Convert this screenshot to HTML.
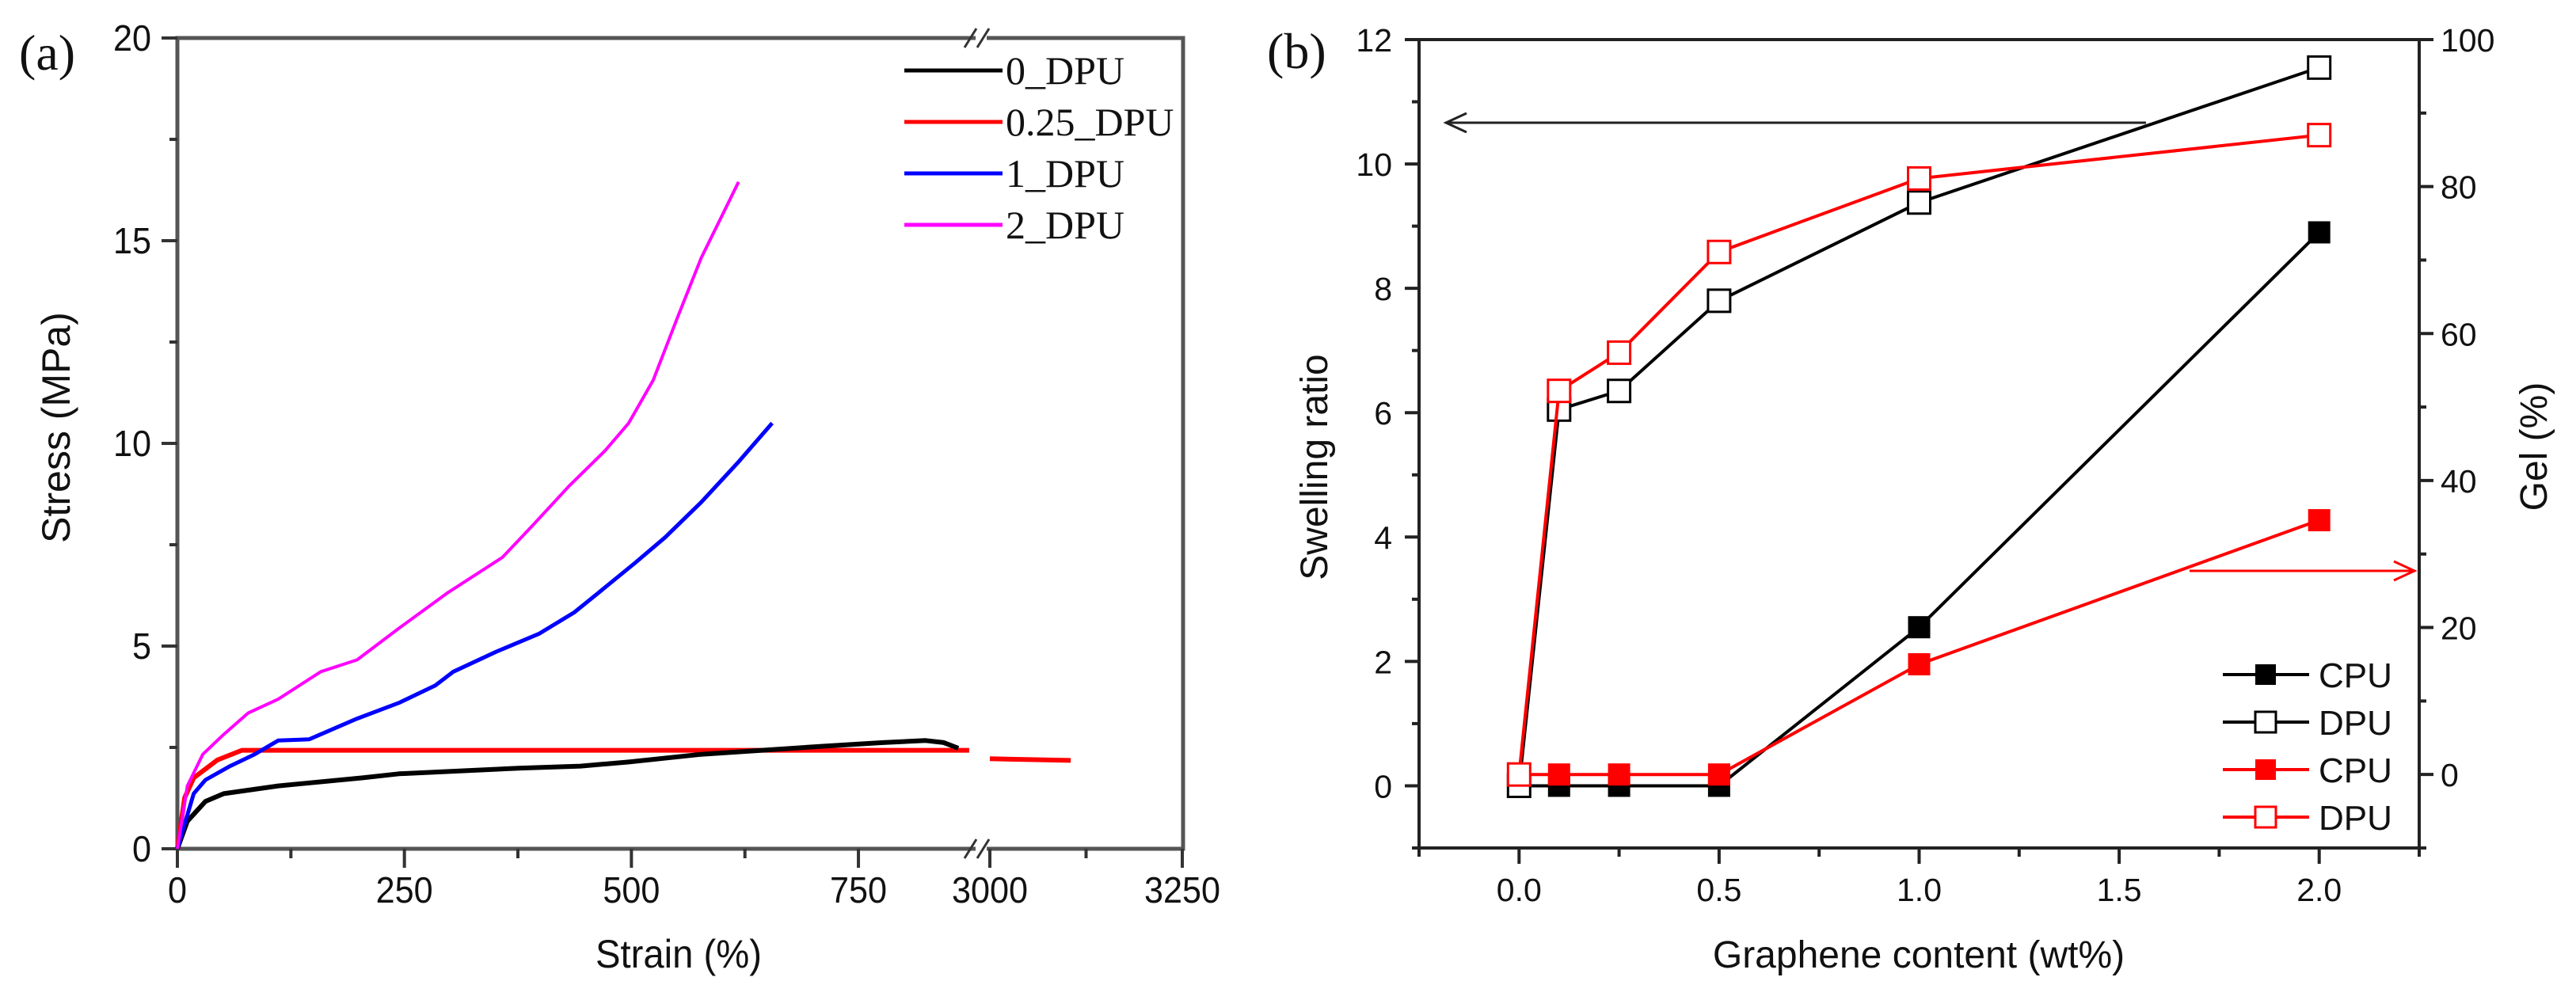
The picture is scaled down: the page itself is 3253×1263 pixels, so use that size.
<!DOCTYPE html>
<html><head><meta charset="utf-8"><title>Stress-strain and swelling charts</title>
<style>
html,body{margin:0;padding:0;background:#fff;}
svg{display:block;}
text{font-family:"Liberation Sans",Arial,sans-serif;fill:#111;}
.serif{font-family:"Liberation Serif","Times New Roman",serif;}
</style></head>
<body>
<svg id="fig" width="3253" height="1263" viewBox="0 0 3253 1263" xmlns="http://www.w3.org/2000/svg">
<g id="pa"></g>
<g id="pb"></g>
</svg>
<script>
// ---------- Panel (a) data ----------
const aStrainTicks = [0, 250, 500, 750, 3000, 3250];
const aStressTicks = [0, 5, 10, 15, 20];
const s0Strain = [0, 11, 31, 51, 111, 204, 244, 378, 444, 497, 577, 711, 777, 824, 844, 860];
const s0Stress = [0, 0.68, 1.17, 1.36, 1.55, 1.75, 1.85, 1.99, 2.04, 2.14, 2.33, 2.53, 2.62, 2.67, 2.62, 2.48];
const s025Strain = [0, 8, 18, 44, 71, 872];
const s025Stress = [0, 1.26, 1.75, 2.19, 2.43, 2.43];
const s025bStrain = [3000, 3105];
const s025bStress = [2.22, 2.18];
const s1Strain = [0, 18, 31, 58, 85, 111, 145, 198, 244, 284, 304, 351, 398, 437, 464, 504, 537, 577, 617, 655];
const s1Stress = [0, 1.36, 1.7, 2.04, 2.33, 2.67, 2.7, 3.21, 3.6, 4.03, 4.37, 4.86, 5.3, 5.83, 6.32, 7.05, 7.68, 8.55, 9.52, 10.5];
const s2Strain = [0, 11, 28, 51, 78, 111, 158, 198, 244, 298, 358, 391, 431, 471, 497, 524, 551, 577, 618];
const s2Stress = [0, 1.55, 2.33, 2.82, 3.35, 3.69, 4.37, 4.66, 5.44, 6.32, 7.19, 7.97, 8.94, 9.82, 10.5, 11.56, 13.12, 14.58, 16.45];
const aLegend = ["0_DPU", "0.25_DPU", "1_DPU", "2_DPU"];
// ---------- Panel (b) data ----------
const bContent = [0, 0.1, 0.25, 0.5, 1, 2];
const bCpuContent = [0, 0.1, 0.25, 0.5, 1, 2];
const swellCPU = [0, 0, 0, 0, 2.55, 8.9];
const swellDPU = [0, 6.05, 6.35, 7.8, 9.38, 11.55];
const gelCPU = [0, 0, 0, 0, 15, 34.6];
const gelDPU = [0, 52.2, 57.4, 71.1, 81.1, 87.0];
const bXTicks = [0, 0.5, 1, 1.5, 2];
const bLeftTicks = [0, 2, 4, 6, 8, 10, 12];
const bRightTicks = [0, 20, 40, 60, 80, 100];

const NS = "http://www.w3.org/2000/svg";
function mk(parent, tag, attrs, txt) {
  const e = document.createElementNS(NS, tag);
  for (const k in attrs) e.setAttribute(k, attrs[k]);
  if (txt !== undefined) e.textContent = txt;
  parent.appendChild(e);
  return e;
}

// ---------- Panel (a) ----------
const pa = document.getElementById('pa');
const AL = 224, AR = 1494, AT = 48, AB = 1072;
function ax(v) {
  if (v <= 884) return AL + v * 1.1467;
  return 1250 + (v - 3000) * 0.972;
}
function ay(v) { return AB - (v / 20) * (AB - AT); }

// frame
let e;
e = mk(pa, 'path', {d: `M${AL},${AB} L${AL},${AT} L1232,${AT}`, stroke:'#555', 'stroke-width':5, fill:'none'});


e = mk(pa, 'path', {d: `M1246,${AT} L${AR},${AT} L${AR},${AB} L1246,${AB}`, stroke:'#555', 'stroke-width':5, fill:'none'});


e = mk(pa, 'path', {d: `M${AL},${AB} L1232,${AB}`, stroke:'#555', 'stroke-width':5});


// break marks
[[1218,1233],[1234,1249]].forEach(([x1,x2],i)=>{
  e = mk(pa,'line',{x1:x1,y1:AB+12,x2:x2,y2:AB-12,stroke:'#333','stroke-width':3});
  
  
  e = mk(pa,'line',{x1:x1,y1:AT+12,x2:x2,y2:AT-12,stroke:'#333','stroke-width':3});
  
  
});
// x ticks
aStrainTicks.forEach(t=>{
  const x = ax(t);
  e = mk(pa,'line',{x1:x,y1:AB,x2:x,y2:AB+24,stroke:'#333','stroke-width':4});
  
  
  e = mk(pa,'text',{x:x,y:AB+68,'text-anchor':'middle','font-size':46,textLength:String(t).length*24,lengthAdjust:'spacingAndGlyphs'},String(t));
  
  
});
[125,375,625,3125].forEach(t=>{
  const x = ax(t);
  e = mk(pa,'line',{x1:x,y1:AB,x2:x,y2:AB+12,stroke:'#333','stroke-width':4});
  
  
});
// y ticks
aStressTicks.forEach(t=>{
  const y = ay(t);
  e = mk(pa,'line',{x1:AL-20,y1:y,x2:AL,y2:y,stroke:'#333','stroke-width':4});
  
  
  e = mk(pa,'text',{x:AL-33,y:y+16,'text-anchor':'end','font-size':46,textLength:String(t).length*24,lengthAdjust:'spacingAndGlyphs'},String(t));
  
  
});
[2.5,7.5,12.5,17.5].forEach(t=>{
  const y = ay(t);
  e = mk(pa,'line',{x1:AL-10,y1:y,x2:AL,y2:y,stroke:'#333','stroke-width':4});
  
  
});
// titles
e = mk(pa,'text',{x:857,y:1222,'text-anchor':'middle','font-size':50,textLength:210,lengthAdjust:'spacingAndGlyphs'},'Strain (%)');


e = mk(pa,'text',{x:0,y:0,'text-anchor':'middle','font-size':50,transform:'translate(88,540) rotate(-90)'},'Stress (MPa)');


e = mk(pa,'text',{x:24,y:88,'font-size':64,'class':'serif'},'(a)');


// series
function poly(parent, xs, ys, fx, fy, color, w, name) {
  const pts = xs.map((v,i)=>fx(v).toFixed(1)+','+fy(ys[i]).toFixed(1)).join(' ');
  const p = mk(parent,'polyline',{points:pts,fill:'none',stroke:color,'stroke-width':w,'stroke-linejoin':'round'});
  
  
  return p;
}
poly(pa, s025Strain, s025Stress, ax, ay, '#ff0000', 6, 'line-0.25-dpu');
poly(pa, s025bStrain, s025bStress, ax, ay, '#ff0000', 6, 'line-0.25-dpu-after-break');
poly(pa, s0Strain, s0Stress, ax, ay, '#000', 6, 'line-0-dpu');
poly(pa, s1Strain, s1Stress, ax, ay, '#0000ff', 5, 'line-1-dpu');
poly(pa, s2Strain, s2Stress, ax, ay, '#ff00ff', 4, 'line-2-dpu');
// legend
const aCols = ['#000','#ff0000','#0000ff','#ff00ff'];
aLegend.forEach((lab,i)=>{
  const y = 89 + i*65;
  const g = mk(pa,'g',{});
  
  
  mk(g,'line',{x1:1142,y1:y,x2:1266,y2:y,stroke:aCols[i],'stroke-width':5});
  mk(g,'text',{x:1270,y:y+17,'font-size':50,'class':'serif'},lab);
});

// ---------- Panel (b) ----------
const pb = document.getElementById('pb');
const BL = 1792, BR = 3055, BT = 50, BB = 1071;
function bx(v){ return BL + (v + 0.25) / 2.5 * (BR - BL); }
function byL(v){ return BB - (v + 1) / 13 * (BB - BT); }
function byR(v){ return BB - (v + 10) / 110 * (BB - BT); }

e = mk(pb,'rect',{x:BL,y:BT,width:BR-BL,height:BB-BT,fill:'none',stroke:'#222','stroke-width':4});


// x ticks
for (let v=-0.25; v<=2.26; v+=0.25) {
  const major = Math.abs((v*2)-Math.round(v*2))<1e-6;
  const x = bx(v);
  e = mk(pb,'line',{x1:x,y1:BB,x2:x,y2:BB+(major?20:11),stroke:'#222','stroke-width':4});
  
  
}
bXTicks.forEach(t=>{
  e = mk(pb,'text',{x:bx(t),y:1138,'text-anchor':'middle','font-size':41},t.toFixed(1));
  
  
});
// left ticks
for (let v=-1; v<=12; v++) {
  const major = v%2===0;
  const y = byL(v);
  e = mk(pb,'line',{x1:BL-(major?18:9),y1:y,x2:BL,y2:y,stroke:'#222','stroke-width':4});
  
  
}
bLeftTicks.forEach(t=>{
  e = mk(pb,'text',{x:BL-34,y:byL(t)+15,'text-anchor':'end','font-size':41},String(t));
  
  
});
// right ticks
for (let v=-10; v<=100; v+=10) {
  const major = v%20===0;
  const y = byR(v);
  e = mk(pb,'line',{x1:BR,y1:y,x2:BR+(major?18:9),y2:y,stroke:'#222','stroke-width':4});
  
  
}
bRightTicks.forEach(t=>{
  e = mk(pb,'text',{x:BR+27,y:byR(t)+15,'text-anchor':'start','font-size':41},String(t));
  
  
});
// titles
e = mk(pb,'text',{x:2423,y:1222,'text-anchor':'middle','font-size':48},'Graphene content (wt%)');


e = mk(pb,'text',{x:0,y:0,'text-anchor':'middle','font-size':48,transform:'translate(1676,590) rotate(-90)'},'Swelling ratio');


e = mk(pb,'text',{x:0,y:0,'text-anchor':'middle','font-size':48,transform:'translate(3216,564) rotate(-90)'},'Gel (%)');


e = mk(pb,'text',{x:1600,y:86,'font-size':64,'class':'serif'},'(b)');


// arrows
e = mk(pb,'g',{});


mk(e,'line',{x1:2710,y1:155,x2:1826,y2:155,stroke:'#222','stroke-width':3});
mk(e,'path',{d:'M1852,143 L1826,155 L1852,167',fill:'none',stroke:'#222','stroke-width':3});
e = mk(pb,'g',{});


mk(e,'line',{x1:2765,y1:721,x2:3049,y2:721,stroke:'#ff0000','stroke-width':3});
mk(e,'path',{d:'M3023,709 L3049,721 L3023,733',fill:'none',stroke:'#ff0000','stroke-width':3});

function series(xs, ys, fy, color, filled, name) {
  const g = mk(pb,'g',{});
  
  
  const pts = xs.map((v,i)=>bx(v).toFixed(1)+','+fy(ys[i]).toFixed(1)).join(' ');
  mk(g,'polyline',{points:pts,fill:'none',stroke:color,'stroke-width':4});
  xs.forEach((v,i)=>{
    if (filled && i===0) return;
    const m = mk(g,'rect',{x:bx(v)-14,y:fy(ys[i])-14,width:28,height:28,fill:filled?color:'#fff',stroke:color,'stroke-width':filled?0:3});
    
    
  });
}
series(bCpuContent, swellCPU, byL, '#000', true, 'swelling-cpu-series');
series(bContent, swellDPU, byL, '#000', false, 'swelling-dpu-series');
series(bCpuContent, gelCPU, byR, '#ff0000', true, 'gel-cpu-series');
series(bContent, gelDPU, byR, '#ff0000', false, 'gel-dpu-series');

// legend b
const bLeg = [['CPU','#000',true],['DPU','#000',false],['CPU','#ff0000',true],['DPU','#ff0000',false]];
bLeg.forEach(([lab,col,fill],i)=>{
  const y = 852 + i*60;
  const g = mk(pb,'g',{});
  
  
  mk(g,'line',{x1:2807,y1:y,x2:2916,y2:y,stroke:col,'stroke-width':4});
  mk(g,'rect',{x:2848,y:y-13,width:26,height:26,fill:fill?col:'#fff',stroke:col,'stroke-width':fill?0:3});
  mk(g,'text',{x:2928,y:y+16,'font-size':44},lab);
});
</script>
</body></html>
